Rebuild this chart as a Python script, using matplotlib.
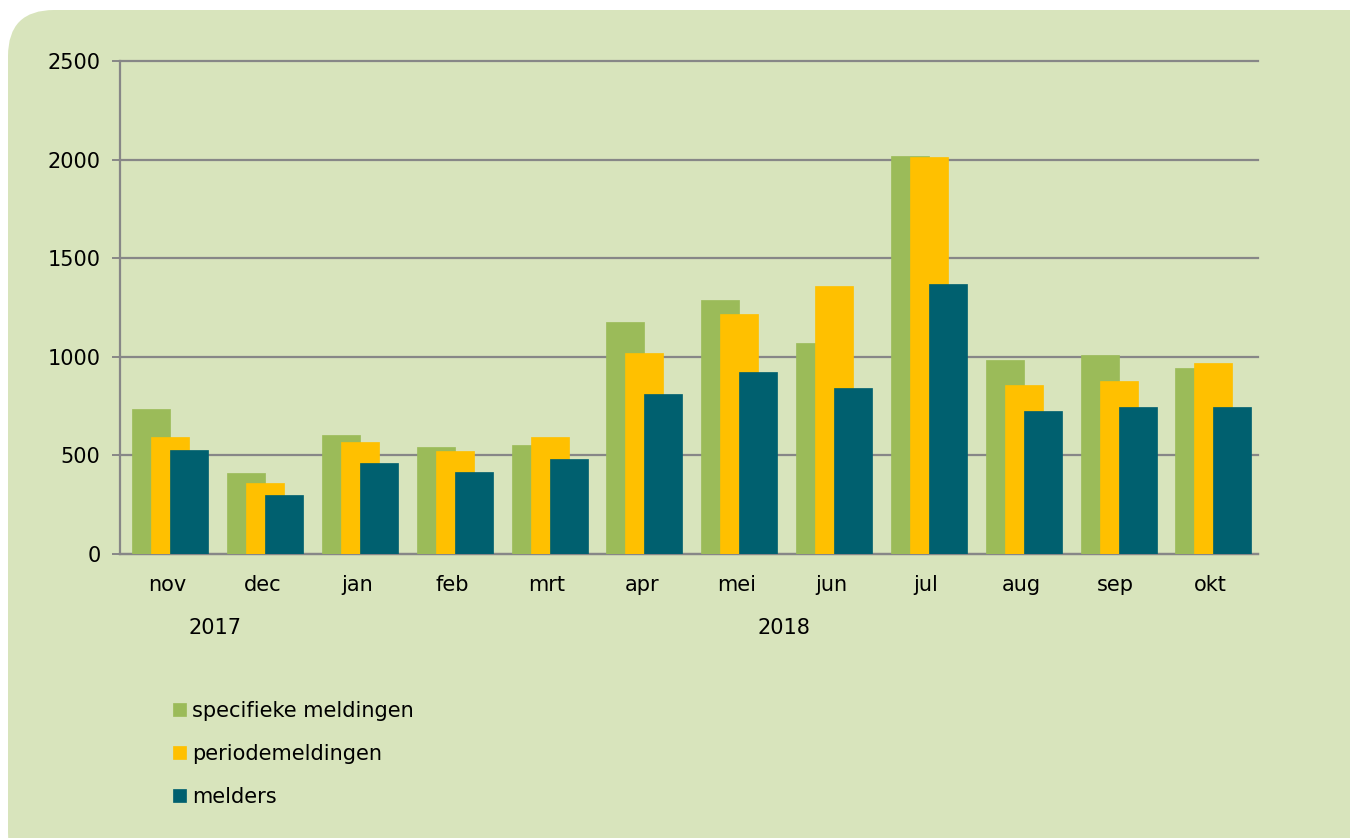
"""Monthly meldingen chart, nov 2017 - okt 2018."""

import matplotlib

matplotlib.use("Agg")
import matplotlib.pyplot as plt
import numpy as np
from matplotlib.patches import FancyBboxPatch
from matplotlib.transforms import IdentityTransform, blended_transform_factory

months = ["nov", "dec", "jan", "feb", "mrt", "apr", "mei", "jun", "jul", "aug", "sep", "okt"]
specifiek = [734, 409, 605, 544, 553, 1176, 1288, 1070, 2018, 984, 1011, 943]
periode = [595, 360, 566, 522, 593, 1019, 1217, 1359, 2013, 857, 877, 969]
melders = [527, 298, 463, 414, 482, 811, 921, 842, 1368, 727, 744, 744]
series_labels = ["specifieke meldingen", "periodemeldingen", "melders"]
years = [("2017", 0, 1), ("2018", 2, 11)]

GREEN = "#9BBB59"
YELLOW = "#FFC000"
TEAL = "#00606F"
BG = "#D8E4BC"
GRID = "#878787"
FS = 15


def main() -> None:
    plt.rcParams["font.family"] = ["DejaVu Sans"]
    fig = plt.figure(figsize=(13.5, 8.38), dpi=100)
    fig.patch.set_facecolor("white")

    # rounded green panel, in pixel coordinates
    panel = FancyBboxPatch((8, -40), 1420, 868,
                           boxstyle="round,pad=0,rounding_size=46",
                           transform=IdentityTransform(),
                           facecolor=BG, edgecolor="none", zorder=0)
    fig.add_artist(panel)

    ax = fig.add_axes([120 / 1350, 1 - 554 / 838, (1258 - 120) / 1350, 493 / 838])
    ax.set_facecolor("none")

    x = np.arange(len(months))
    w = 0.4
    bars = []
    for off, vals, col in [(-0.17, specifiek, GREEN), (0.03, periode, YELLOW), (0.23, melders, TEAL)]:
        bars.append(ax.bar(x + off, vals, width=w, color=col, edgecolor=col,
                           linewidth=0.5, zorder=3))

    ax.set_xlim(-0.5, len(months) - 0.5)
    ax.set_ylim(0, 2500)
    ax.set_yticks(range(0, 2501, 500))
    ax.yaxis.grid(True, color=GRID, linewidth=1.6, zorder=1)
    for gl in ax.get_ygridlines():
        gl.set_clip_on(False)
    ax.set_axisbelow(True)

    ax.set_xticks(x)
    ax.set_xticklabels(months)
    ax.tick_params(axis="x", length=0, pad=15, labelsize=FS)
    ax.tick_params(axis="y", length=6, width=1.4, color=GRID, pad=8, labelsize=FS)

    for side in ["top", "right"]:
        ax.spines[side].set_visible(False)
    ax.spines["left"].set_color(GRID)
    ax.spines["left"].set_linewidth(1.6)
    ax.spines["bottom"].set_color(GRID)
    ax.spines["bottom"].set_linewidth(1.6)

    trans = blended_transform_factory(ax.transData, ax.transAxes)
    for label, first, last in years:
        ax.text((first + last) / 2, -0.15, label, transform=trans,
                ha="center", va="center", fontsize=FS)

    fig.legend(bars, series_labels, loc="upper left",
               bbox_to_anchor=(173 / 1350, 1 - 701 / 838),
               frameon=False, fontsize=FS, handlelength=0.6, handleheight=0.6,
               handletextpad=0.3, labelspacing=1.1, borderpad=0, borderaxespad=0)

    fig.savefig("out.png", dpi=100)
    plt.close(fig)


if __name__ == "__main__":
    main()
